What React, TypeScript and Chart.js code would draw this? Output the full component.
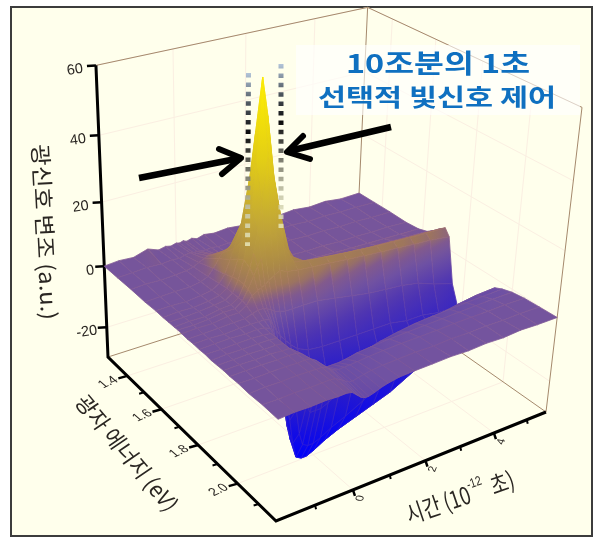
import React, { useEffect, useRef } from "react";
import { Chart, registerables, ScatterController } from "chart.js";

Chart.register(...registerables);

const timeGrid = [-2, -1.6, -1.2, -0.8, -0.5, -0.3, -0.15, 0, 0.1, 0.2, 0.3, 0.45, 0.6, 0.8, 1.1, 1.5, 2, 2.5, 3, 3.5, 4, 4.5, 5, 5.6];
const energyGrid = [1.28, 1.36, 1.44, 1.52, 1.58, 1.62, 1.65, 1.68, 1.7, 1.72, 1.75, 1.78, 1.81, 1.84, 1.87, 1.9, 1.93, 1.96, 2.0, 2.05, 2.11, 2.18];

const signalE128 = [0, .4, .1, 1.5, .2, .7, .3, .8, .5, .9, .4, .9, .3, 1, .5, .9, .3, .8, .2, .7, .1, .5, -.2, 0];
const signalE136 = [0, .2, .5, .3, .6, .4, .9, 1.2, .9, 1, .8, .6, .9, .5, .8, .4, .7, .3, .6, .2, .4, .2, .3, .1];
const signalE144 = [.1, .4, .2, .5, .8, 1.3, 2.2, 3, 3.5, 3.5, 3, 2.2, 1.5, .9, .7, .8, .5, .7, .4, .5, .3, .4, .2, .2];
const signalE152 = [0, .2, .4, .4, 1, 2, 4, 6.5, 8, 8.5, 9, 8, 6, 3.5, 1.5, .9, .9, .6, .7, .4, .5, .3, .4, .1];
const signalE158 = [.2, .3, .1, .6, 1.2, 2.6, 5, 9, 12, 15, 19, 22, 19, 12, 5, 2.2, 1.6, 1.4, 1.2, 1, .9, .8, .6, .5];
const signalE162 = [.1, .4, .3, .8, 1.5, 3, 6, 11, 16, 24, 34, 47, 42, 28, 11, 3.5, 3, 2.7, 2.4, 2.2, 2, 1.8, 1.6, 1.4];
const signalE165 = [.2, .2, .5, 1, 1.5, 3, 6.5, 12, 18, 27, 40, 63, 52, 33, 14, 5.5, 5, 4.6, 4.2, 3.9, 3.6, 3.4, 3.2, 3];
const signalE168 = [.2, .5, .4, 1.2, 1.5, 3, 6.5, 11, 15, 21, 29, 42, 37, 25, 11, 8, 7.2, 6.7, 6.3, 5.9, 5.6, 5.3, 5.1, 4.9];
const signalE170 = [.3, .3, .6, 1.3, 1.3, 3, 6, 9.5, 12, 14, 16, 20, 20, 16, 10, 9.2, 8.6, 8, 7.5, 7, 6.7, 6.4, 6.2, 6];
const signalE172 = [.2, .4, .3, 1, 1, 2.5, 5, 6, 6.5, 7, 8, 9, 10, 9, 8.5, 8, 7.6, 7, 6.5, 6, 5.6, 5.2, 4.8, 4];
const signalE175 = [.1, .2, .4, .6, .7, 1.5, 2, 2, 1.5, 1, 0, -.5, -1, -1, -1, -1, -2, -3, -4, -4.5, -5, -6, -8, -10];
const signalE178 = [.2, .3, .1, .4, .5, .5, .5, 0, -2, -4, -6, -8, -10, -12, -13.5, -14, -14, -14, -14, -14, -15, -15, -16, -16];
const signalE181 = [.1, .3, .4, .2, .4, .1, -.5, -5, -13, -20, -23, -25, -25, -25, -24, -23, -22, -21, -20, -19, -18, -17, -16.5, -16];
const signalE184 = [.2, .1, .3, .4, .2, 0, -2, -13, -23, -31, -36, -37, -37, -36, -35, -33, -31, -29, -27, -25, -23, -21, -19, -17.5];
const signalE187 = [0, .3, .2, .3, .3, .1, -2.5, -15, -27, -35, -40, -41, -41, -40, -38, -36, -34, -32, -30, -27, -24, -22, -20, -18];
const signalE190 = [.1, .2, .4, .2, .3, 0, -2, -12, -22, -30, -34, -35, -35, -34, -32, -30, -27, -24, -21, -18, -15, -12, -9.5, -7];
const signalE193 = [.2, .3, .2, .4, .1, .1, -1.2, -7, -13, -19, -22, -22, -22, -21, -19, -17, -14, -11, -8.5, -6.5, -5, -4, -3.2, -2.8];
const signalE196 = [.1, .2, .3, .2, .3, .2, -.5, -3, -6, -9, -10, -10, -10, -9.5, -8, -6.5, -5, -4, -3.2, -2.8, -2.5, -2.2, -2, -1.8];
const signalE200 = [.2, .1, .3, .3, .2, .3, .1, -1, -2.5, -3.5, -4, -4, -4, -3.7, -3, -2.6, -2.2, -2, -1.8, -1.6, -1.4, -1.2, -1, -.9];
const signalE205 = [0, .3, .2, .4, .3, .2, .2, -.5, -1.5, -2, -2.2, -2.1, -2, -1.8, -1.5, -1.2, -1, -.9, -.8, -.6, -.5, -.5, -.3, -.4];
const signalE211 = [.2, .1, .3, .2, .3, .4, .1, -.8, -1.6, -2.2, -2.4, -2, -1.6, -1.2, -.9, -.7, -.5, -.6, -.3, -.4, -.2, -.3, -.1, -.2];
const signalE218 = [0, .3, .2, .4, .2, .3, 0, -1.5, -2.5, -3, -3, -2.5, -1.8, -1.2, -.6, -.4, -.3, -.1, -.3, 0, -.2, .2, 0, 0];

const signalRows = [signalE128, signalE136, signalE144, signalE152, signalE158, signalE162, signalE165, signalE168, signalE170, signalE172, signalE175, signalE178, signalE181, signalE184, signalE187, signalE190, signalE193, signalE196, signalE200, signalE205, signalE211, signalE218];

const signalTicks = [60, 40, 20, 0, -20];
const energyTicks = [1.4, 1.6, 1.8, 2.0];
const energyMinorTicks = [1.5, 1.7, 1.9, 2.1];
const timeTicks = [0, 2, 4];
const timeMinorTicks = [-1, 1, 3, 5];

const T_MIN = -2, T_MAX = 5.6, E_MIN = 1.28, E_MAX = 2.18, Z_MIN = -30, Z_MAX = 60;

// perspective camera of the box
const F = [276, 521], R = [546, 412], L = [108, 357];
const RW = 1.116, LW = 1.182;
const Q = [-25, -352, -0.112];

function project(t: number, e: number, z: number) {
  const u = (t - T_MIN) / (T_MAX - T_MIN);
  const v = (E_MAX - e) / (E_MAX - E_MIN);
  const w = (z - Z_MIN) / (Z_MAX - Z_MIN);
  const d = 1 + u * (RW - 1) + v * (LW - 1) + w * Q[2];
  return {
    x: (F[0] + u * (RW * R[0] - F[0]) + v * (LW * L[0] - F[0]) + w * Q[0]) / d,
    y: (F[1] + u * (RW * R[1] - F[1]) + v * (LW * L[1] - F[1]) + w * Q[1]) / d,
  };
}

const colorStops: [number, number[]][] = [
  [-40, [0, 0, 250]], [-22, [38, 26, 205]], [-9, [78, 52, 178]], [-1, [112, 82, 162]], [3, [130, 90, 140]],
  [6, [158, 118, 92]], [12, [172, 138, 70]], [22, [192, 164, 56]], [40, [226, 204, 22]], [62, [255, 240, 0]],
];

function zColor(z: number) {
  if (z <= colorStops[0][0]) return `rgb(${colorStops[0][1].join(",")})`;
  for (let i = 1; i < colorStops.length; i++) {
    const [z1, c1] = colorStops[i];
    if (z <= z1) {
      const [z0, c0] = colorStops[i - 1];
      const f = (z - z0) / (z1 - z0);
      return `rgb(${c0.map((c, k) => Math.round(c + (c1[k] - c) * f)).join(",")})`;
    }
  }
  return "rgb(255,240,0)";
}

class SurfaceController extends ScatterController {
  static id = "surface";
  static defaults = {};
  draw() {
    const pts: any[] = this.getMeta().data as any;
    const raw: any[] = this.getDataset().data as any;
    const ctx: CanvasRenderingContext2D = this.chart.ctx;
    ctx.save();
    ctx.lineJoin = "round";
    for (let i = 0; i + 3 < pts.length; i += 4) {
      const q = [0, 1, 2, 3].map((k) => ({ x: pts[i + k].x, y: pts[i + k].y, z: raw[i + k].z }));
      const lo = q.reduce((a, b) => (b.z < a.z ? b : a));
      const hi = q.reduce((a, b) => (b.z > a.z ? b : a));
      let paint: any = zColor((q[0].z + q[1].z + q[2].z + q[3].z) / 4);
      if (hi.z - lo.z > 0.6 && (hi.x !== lo.x || hi.y !== lo.y)) {
        paint = ctx.createLinearGradient(lo.x, lo.y, hi.x, hi.y);
        const n = 6;
        for (let s = 0; s <= n; s++) paint.addColorStop(s / n, zColor(lo.z + ((hi.z - lo.z) * s) / n));
      }
      ctx.beginPath();
      q.forEach((p, k) => (k ? ctx.lineTo(p.x, p.y) : ctx.moveTo(p.x, p.y)));
      ctx.closePath();
      ctx.fillStyle = paint;
      ctx.strokeStyle = paint;
      ctx.lineWidth = 0.8;
      ctx.fill();
      ctx.stroke();
      ctx.strokeStyle = hi.z > 15 ? "rgba(200,170,90,0.10)" : "rgba(200,130,120,0.2)";
      ctx.lineWidth = 0.6;
      ctx.stroke();
    }
    ctx.restore();
  }
}
Chart.register(SurfaceController as any);

function surfacePoints() {
  const out: any[] = [];
  for (let j = 0; j < energyGrid.length - 1; j++) {
    for (let i = timeGrid.length - 2; i >= 0; i--) {
      const corners = [[i, j], [i + 1, j], [i + 1, j + 1], [i, j + 1]];
      corners.forEach(([a, b]) => {
        const z = signalRows[b][a];
        out.push({ ...project(timeGrid[a], energyGrid[b], z), z });
      });
    }
  }
  return out;
}

const gap = { x: NaN, y: NaN };

function linesThrough(segments: { x: number; y: number }[][]) {
  const out: any[] = [];
  segments.forEach((s) => { out.push(...s, gap); });
  return out;
}

function line(data: any[], color: any, width: number, extra: any = {}) {
  return { type: "scatter", data, showLine: true, pointRadius: 0, borderColor: color, borderWidth: width, fill: false, ...extra };
}

function App() {
  const ref = useRef<HTMLCanvasElement>(null);
  useEffect(() => {
    document.body.style.margin = "0";
    const canvas = ref.current!;
    const g2d = canvas.getContext("2d")!;

    const dotGradient = (y0: number, y1: number) => {
      const g = g2d.createLinearGradient(0, y0, 0, y1);
      g.addColorStop(0, "rgba(170,190,215,0.9)");
      g.addColorStop(0.15, "rgba(90,100,110,1)");
      g.addColorStop(0.35, "rgba(10,10,10,1)");
      g.addColorStop(0.55, "rgba(110,110,100,1)");
      g.addColorStop(0.8, "rgba(200,200,170,0.9)");
      g.addColorStop(1, "rgba(235,235,190,0.8)");
      return g;
    };

    const corner = (t: number, e: number, z: number) => project(t, e, z);
    const LB = corner(T_MIN, E_MIN, Z_MIN), LT = corner(T_MIN, E_MIN, Z_MAX);
    const BB = corner(T_MAX, E_MIN, Z_MIN), BT = corner(T_MAX, E_MIN, Z_MAX);
    const RB = corner(T_MAX, E_MAX, Z_MIN), RT = corner(T_MAX, E_MAX, Z_MAX);
    const FB = corner(T_MIN, E_MAX, Z_MIN);

    const gridSegs: any[][] = [];
    signalTicks.forEach((z) => {
      gridSegs.push([corner(T_MIN, E_MIN, z), corner(T_MAX, E_MIN, z)]);
      gridSegs.push([corner(T_MAX, E_MIN, z), corner(T_MAX, E_MAX, z)]);
    });
    timeTicks.forEach((t) => {
      gridSegs.push([corner(t, E_MIN, Z_MIN), corner(t, E_MIN, Z_MAX)]);
      gridSegs.push([corner(t, E_MIN, Z_MIN), corner(t, E_MAX, Z_MIN)]);
    });
    energyTicks.forEach((e) => {
      gridSegs.push([corner(T_MAX, e, Z_MIN), corner(T_MAX, e, Z_MAX)]);
      gridSegs.push([corner(T_MIN, e, Z_MIN), corner(T_MAX, e, Z_MIN)]);
    });

    const tickSegs: any[][] = [];
    const off = (p: any, dx: number, dy: number) => ({ x: p.x + dx, y: p.y + dy });
    signalTicks.forEach((z) => { const p = corner(T_MIN, E_MIN, z); tickSegs.push([p, off(p, -9, 0.5)]); });
    energyTicks.forEach((e) => { const p = corner(T_MIN, e, Z_MIN); tickSegs.push([p, off(p, -9, 2.5)]); });
    timeTicks.forEach((t) => { const p = corner(t, E_MAX, Z_MIN); tickSegs.push([p, off(p, 2, 6)]); });
    const minorSegs: any[][] = [];
    energyMinorTicks.forEach((e) => { const p = corner(T_MIN, e, Z_MIN); minorSegs.push([p, off(p, -5, 1.5)]); });
    timeMinorTicks.forEach((t) => { const p = corner(t, E_MAX, Z_MIN); minorSegs.push([p, off(p, 1, 4)]); });

    const textPlugin = {
      id: "texts",
      beforeDraw(c: any) {
        const ctx = c.ctx;
        ctx.save();
        ctx.fillStyle = "#ffffff";
        ctx.fillRect(0, 0, 600, 543);
        ctx.fillStyle = "#FFFFEC";
        ctx.fillRect(11, 7, 581, 529);
        ctx.strokeStyle = "#3c3c3c";
        ctx.lineWidth = 2;
        ctx.strokeRect(11, 7, 581, 529);
        ctx.restore();
      },
      afterDatasetsDraw(c: any) {
        const ctx: CanvasRenderingContext2D = c.ctx;
        const sx = c.scales.x, sy = c.scales.y;
        const put = (text: string, x: number, y: number, rot: number, font: string, color: string, skew = 0, width?: number) => {
          ctx.save();
          ctx.translate(sx.getPixelForValue(x), sy.getPixelForValue(y));
          ctx.rotate((rot * Math.PI) / 180);
          ctx.transform(1, 0, skew, 1, 0, 0);
          ctx.font = font;
          ctx.fillStyle = color;
          ctx.textAlign = "center";
          ctx.textBaseline = "middle";
          if (width) ctx.scale(width / ctx.measureText(text).width, 1);
          ctx.fillText(text, 0, 0);
          ctx.restore();
        };
        const SANS = '"Liberation Sans", Arial, sans-serif';
        const KR = '"Noto Sans CJK KR", sans-serif';
        const ink = "#2a2622";

        signalTicks.forEach((z) => {
          const p = corner(T_MIN, E_MIN, z);
          put(String(z), p.x - (z < 0 ? 20 : z === 0 ? 14 : 21), p.y + 4.5, -8, `14.5px ${SANS}`, ink);
        });
        energyTicks.forEach((e) => {
          const p = corner(T_MIN, e, Z_MIN);
          put(e.toFixed(1), p.x - 19, p.y + 6.5, -25, `12.5px ${SANS}`, ink, 0.45);
        });
        timeTicks.forEach((t) => {
          const p = corner(t, E_MAX, Z_MIN);
          put(String(t), p.x + 7.5, p.y + 8.5, -68, `11px ${SANS}`, ink, 0.2);
        });

        put("광신호 변조 (a.u.)", 45, 232, 87, `400 22px ${KR}`, ink, 0, 176);
        put("광자 에너지 (eV)", 127, 453, 50, `400 22px ${KR}`, ink, -0.1, 145);

        ctx.save();
        ctx.translate(sx.getPixelForValue(460), sy.getPixelForValue(497));
        ctx.rotate((-19 * Math.PI) / 180);
        ctx.scale(0.95, 1.2);
        ctx.fillStyle = ink;
        ctx.textBaseline = "middle";
        ctx.textAlign = "left";
        ctx.font = `400 20px ${KR}`;
        const w1 = ctx.measureText("시간 (10").width;
        ctx.font = `400 11px ${SANS}`;
        const w2 = ctx.measureText("-12").width;
        ctx.font = `400 20px ${KR}`;
        const w3 = ctx.measureText(" 초)").width + 3;
        let at = -(w1 + w2 + w3) / 2;
        ctx.fillText("시간 (10", at, 0);
        at += w1;
        ctx.font = `400 11px ${SANS}`;
        ctx.fillText("-12", at, -7);
        at += w2 + 3;
        ctx.font = `400 20px ${KR}`;
        ctx.fillText(" 초)", at, 0);
        ctx.restore();

        ctx.save();
        ctx.fillStyle = "rgba(255,255,255,0.62)";
        ctx.fillRect(296, 45, 284, 70);
        ctx.restore();
        put("10조분의 1초", 438, 63, 0, `700 26px ${KR}`, "#0F70C0", 0, 184);
        put("선택적 빛신호 제어", 437, 97, 0, `700 24px ${KR}`, "#0F70C0", 0, 238);
      },
    };

    const chart = new Chart(canvas, {
      type: "scatter",
      data: {
        datasets: [
          // first listed is on top
          line([{ x: 139, y: 178 }, { x: 241, y: 158 }], "#000", 6.5),
          line([{ x: 219, y: 149 }, { x: 241, y: 158 }, { x: 222, y: 174 }], "#000", 6, { borderCapStyle: "round", borderJoinStyle: "round" }),
          line([{ x: 391, y: 127 }, { x: 289, y: 151 }], "#000", 6.5),
          line([{ x: 303, y: 136 }, { x: 287, y: 152 }, { x: 310, y: 159 }], "#000", 6, { borderCapStyle: "round", borderJoinStyle: "round" }),
          line([{ x: 248.5, y: 73 }, { x: 247.5, y: 246 }], dotGradient(73, 246), 5, { borderDash: [4.5, 4.9] }),
          line([{ x: 281, y: 64 }, { x: 281, y: 228 }], dotGradient(64, 228), 5, { borderDash: [4.5, 4.9] }),
          { type: "surface", data: surfacePoints(), showLine: false, pointRadius: 0 },
          line(linesThrough(tickSegs), "#000", 2.5),
          line(linesThrough(minorSegs), "#000", 2),
          line([LT, LB, FB, RB].map((p) => ({ x: p.x, y: p.y })), "#000", 3, { borderJoinStyle: "miter" }),
          line(linesThrough([[LT, BT, RT, RB], [LB, BB, RB], [BT, BB]]), "#A5896C", 1),
          line(linesThrough(gridSegs), "#FBEFE2", 1),
        ] as any,
      },
      options: {
        responsive: false,
        animation: false,
        events: [],
        layout: { padding: 0 },
        plugins: { legend: { display: false }, tooltip: { enabled: false } },
        scales: {
          x: { type: "linear", min: 0, max: 600, display: false },
          y: { type: "linear", min: 0, max: 543, reverse: true, display: false },
        },
      } as any,
      plugins: [textPlugin],
    });
    return () => chart.destroy();
  }, []);
  return <canvas ref={ref} width={600} height={543} style={{ display: "block" }} />;
}

export default App;
